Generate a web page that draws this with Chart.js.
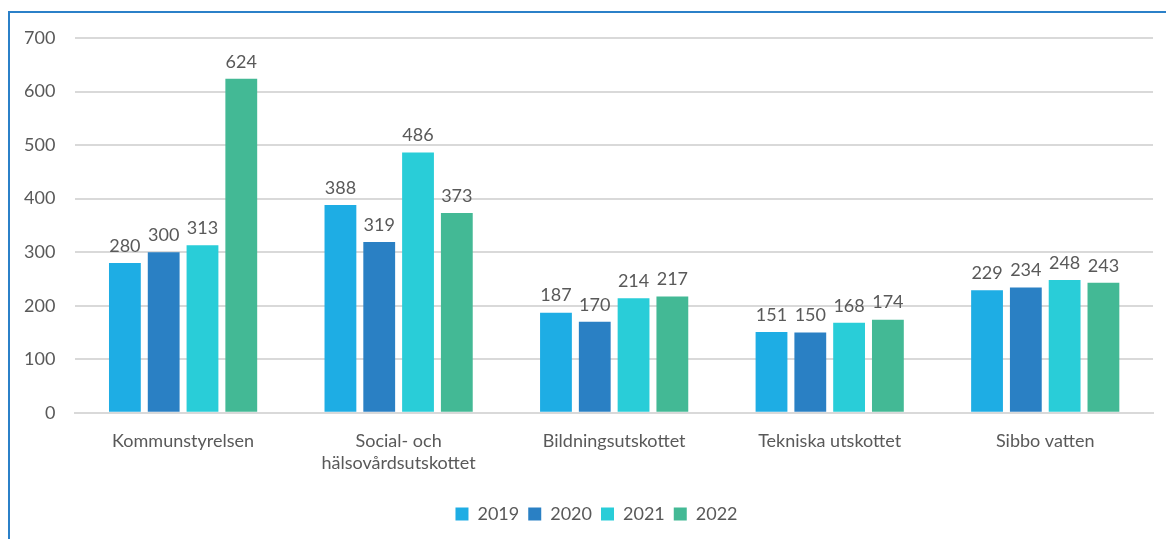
<!DOCTYPE html>
<html>
<head>
<meta charset="utf-8">
<script src="https://cdn.jsdelivr.net/npm/chart.js@4"></script>
<style>
  body { margin: 0; background: #fff; }
  #frame { position: absolute; left: 8px; top: 11px; width: 1200px; height: 600px;
           border-top: 2px solid #2B80C8; border-left: 2px solid #2B80C8; }
  #wrap { position: absolute; left: 0; top: 0; width: 1166px; height: 539px; }
</style>
</head>
<body>
<div id="frame"></div>
<div id="wrap"><canvas id="myChart"></canvas></div>
<script>
const categories = ['Kommunstyrelsen', ['Social- och', 'hälsovårdsutskottet'], 'Bildningsutskottet', 'Tekniska utskottet', 'Sibbo vatten']
const years = ['2019', '2020', '2021', '2022']
const v2019 = [280, 388, 187, 151, 229]
const v2020 = [300, 319, 170, 150, 234]
const v2021 = [313, 486, 214, 168, 248]
const v2022 = [624, 373, 217, 174, 243]
const colors = ['#1EADE4', '#2A80C4', '#29CDD8', '#43B995']
const yTicks = [0, 100, 200, 300, 400, 500, 600, 700]

const FONT = 'Lato, "Open Sans", sans-serif'

// simple value labels above each bar
const barLabels = {
  id: 'barLabels',
  afterLayout(chart) {
    // legend sits a bit right of centre in the original
    chart.legend.left += 36
  },
  afterDatasetsDraw(chart) {
    const ctx = chart.ctx
    ctx.save()
    ctx.font = '18px ' + FONT
    ctx.fillStyle = '#595959'
    ctx.textAlign = 'center'
    ctx.textBaseline = 'bottom'
    chart.data.datasets.forEach((ds, i) => {
      chart.getDatasetMeta(i).data.forEach((bar, j) => {
        ctx.fillText(ds.data[j], bar.x, bar.y - 8)
      })
    })
    ctx.restore()
  }
}

const series = [v2019, v2020, v2021, v2022]
new Chart(document.getElementById('myChart'), {
  type: 'bar',
  data: {
    labels: categories,
    datasets: series.map((d, i) => ({
      label: years[i],
      data: d,
      backgroundColor: colors[i],
      categoryPercentage: 0.72,
      barPercentage: 0.82
    }))
  },
  options: {
    responsive: true,
    maintainAspectRatio: false,
    animation: false,
    layout: { padding: { left: 4, right: 13, top: 38, bottom: 6 } },
    scales: {
      x: {
        grid: { display: false },
        border: { color: '#d9d9d9', width: 2 },
        ticks: { color: '#595959', font: { size: 18, family: FONT }, padding: 10, maxRotation: 0 },
        afterFit: (axis) => { axis.height += 12 }
      },
      y: {
        min: 0, max: 700,
        afterBuildTicks: (axis) => { axis.ticks = yTicks.map(v => ({ value: v })) },
        grid: { color: '#d9d9d9', lineWidth: 2, drawTicks: false },
        border: { display: false },
        ticks: { color: '#595959', font: { size: 18, family: FONT }, padding: 20 }
      }
    },
    plugins: {
      legend: {
        position: 'bottom',
        labels: { color: '#595959', font: { size: 18, family: FONT }, boxWidth: 13, boxHeight: 13, padding: 9 }
      },
      tooltip: { enabled: false }
    }
  },
  plugins: [barLabels]
})
</script>
</body>
</html>
